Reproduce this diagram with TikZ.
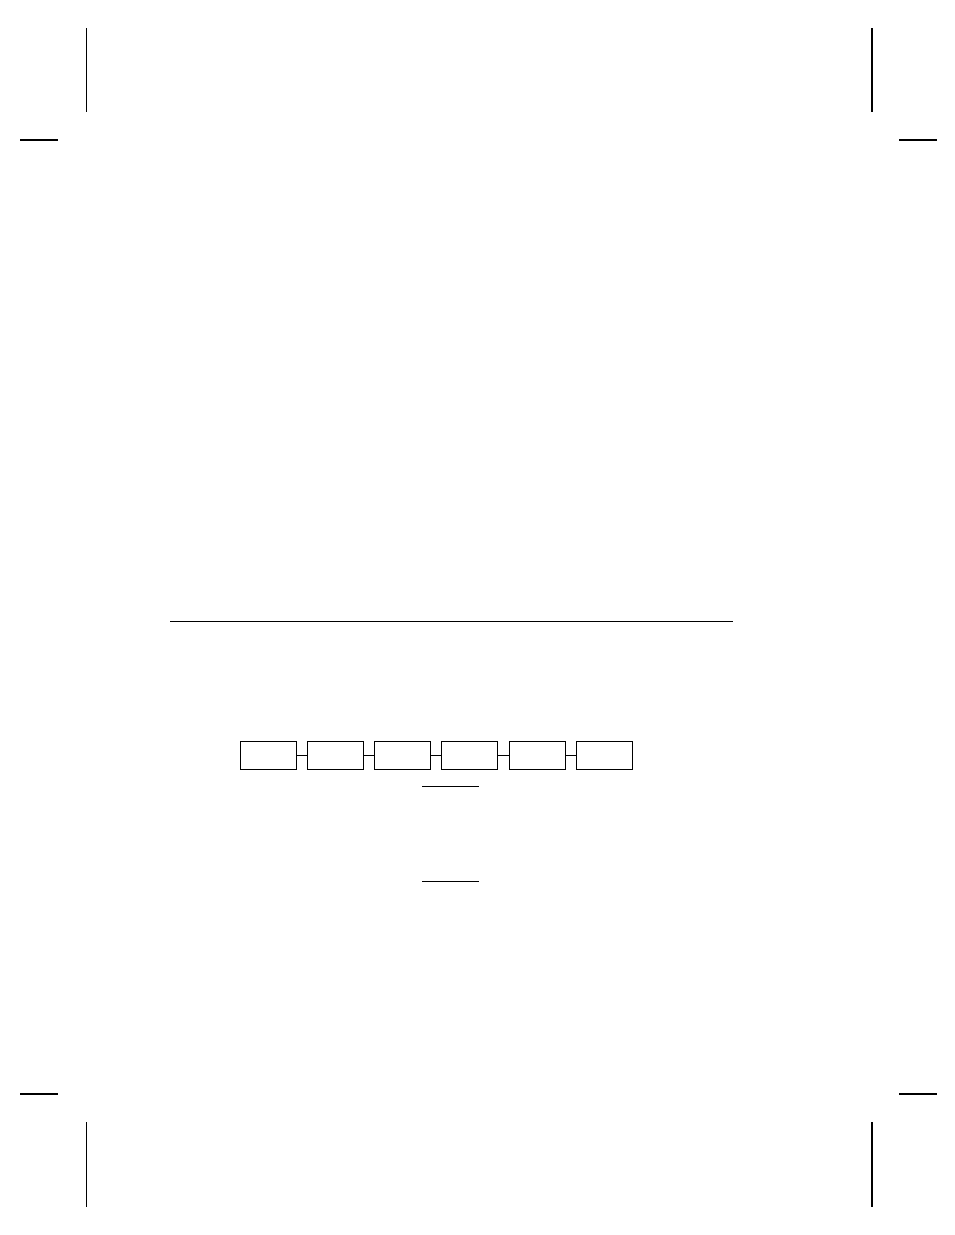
\documentclass[tikz,border=0pt]{standalone}
\usetikzlibrary{chains}

\begin{document}
\begin{tikzpicture}[x=1pt, y=-1pt, cell/.style={rectangle, draw, line width=1pt,
    minimum width=56pt, minimum height=27.6pt, inner sep=0pt}, cropmark/.style={line width=1.6pt},
    start chain, node distance=10.2pt]
    \useasboundingbox (0,0) rectangle (954,1235);
    \draw[cropmark] (86.5,28) -- (86.5,112);
    \draw[cropmark] (20,140) -- (58,140);
    \draw[cropmark] (872,28) -- (872,112);
    \draw[cropmark] (899,140) -- (937,140);
    \draw[cropmark] (20,1094) -- (58,1094);
    \draw[cropmark] (86.5,1122) -- (86.5,1206.5);
    \draw[cropmark] (899,1094) -- (937,1094);
    \draw[cropmark] (872,1122) -- (872,1206.5);
    \draw[line width=1pt] (170,621) -- (733,621);
    \node[cell,on chain] at (268.3,755.5) (A) {};
    \node[cell,on chain] (B) {};
    \node[cell,on chain] (C) {};
    \node[cell,on chain] (D) {};
    \node[cell,on chain] (E) {};
    \node[cell,on chain] (F) {};
    \draw[line width=1pt] (A) -- (B);
    \draw[line width=1pt] (B) -- (C);
    \draw[line width=1pt] (C) -- (D);
    \draw[line width=1pt] (D) -- (E);
    \draw[line width=1pt] (E) -- (F);
    \draw[line width=1pt] (422,786.5) -- (478.7,786.5);
    \draw[line width=1pt] (422,881.5) -- (478.7,881.5);
\end{tikzpicture}
\end{document}
